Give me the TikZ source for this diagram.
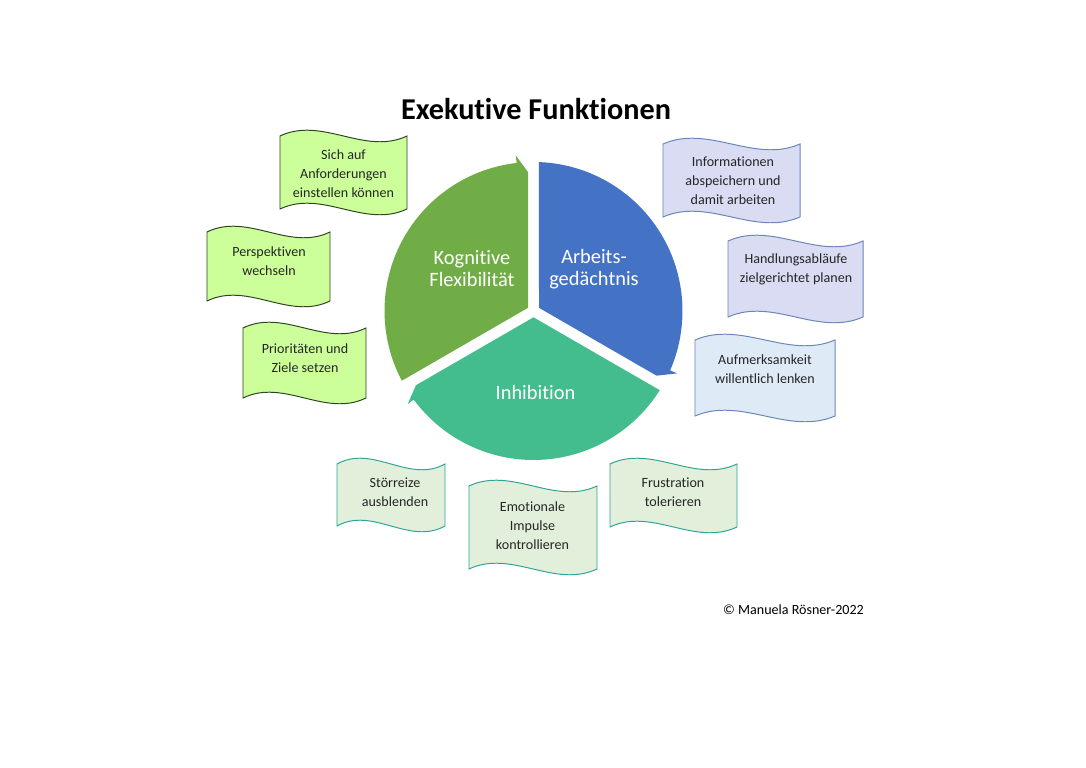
\documentclass[tikz,border=0pt]{standalone}
\usepackage{fontspec}
\setmainfont{Carlito}[Ligatures=NoCommon]
\usepackage{tikz}

\definecolor{kogcol}{HTML}{70AD47}
\definecolor{arbcol}{HTML}{4472C4}
\definecolor{inhcol}{RGB}{67,189,141}
\definecolor{kogbox}{HTML}{CCFF99}
\definecolor{kogline}{HTML}{2E4524}
\definecolor{arbbox}{HTML}{D9DCF2}
\definecolor{arbboxb}{HTML}{DEEBF7}
\definecolor{arbline}{HTML}{6A86BA}
\definecolor{inhbox}{HTML}{E2EFDA}
\definecolor{inhline}{HTML}{2EA597}

% wave shaped box: style, left, top, width, height
\newcommand{\wavebox}[5]{%
  \draw[#1] ({#2},{#3-6}) .. controls ({#2+#4/3},{#3+14}) and ({#2+2*#4/3},{#3-26}) .. ({#2+#4},{#3-6})
    -- ({#2+#4},{#3-#5+6}) .. controls ({#2+2*#4/3},{#3-#5-14}) and ({#2+#4/3},{#3-#5+26}) .. ({#2},{#3-#5+6}) -- cycle;}

\begin{document}
\begin{tikzpicture}[x=0.025cm, y=0.025cm,
    seglabel/.style={align=center, text=white, font=\fontsize{14.5}{15.6}\selectfont, inner sep=0pt},
    boxtext/.style={align=center, text=black!85, font=\fontsize{10}{13.5}\selectfont, inner sep=0pt},
    kogwave/.style={fill=kogbox, draw=kogline, line width=0.7pt},
    arbwave/.style={fill=arbbox, draw=arbline, line width=0.7pt},
    arbwaveb/.style={fill=arbboxb, draw=arbline, line width=0.7pt},
    inhwave/.style={fill=inhbox, draw=inhline, line width=0.7pt}]
    \fill[white] (0,0) rectangle (1086,768);
    \useasboundingbox (0,0) rectangle (1086,768);

    % Title
    \node[anchor=base, font=\fontsize{21.5}{25}\selectfont\bfseries] (title) at (536,648) {Exekutive Funktionen};

    % Cycle with three segments
    \coordinate (mid) at (533.5,457);
    \begin{scope}[shift={(mid)}]
        \fill[kogcol] (150:6.35) -- (92.27:139) -- (96.5:156.5) -- (96.5:149) arc[start angle=96.5, end angle=207.9, radius=149] -- cycle;
        \fill[arbcol] (30:6.35) -- (-27.73:139) -- (-23.5:156.5) -- (-23.5:149) arc[start angle=-23.5, end angle=87.9, radius=149] -- cycle;
        \fill[inhcol] (270:6.35) -- (212.27:139) -- (216.5:156.5) -- (216.5:149) arc[start angle=216.5, end angle=327.9, radius=149] -- cycle;
    \end{scope}
    \node[seglabel] (kog) at (472,499) {Kognitive\\Flexibilität};
    \node[seglabel] (arb) at (594,499) {Arbeits-\\gedächtnis};
    \node[seglabel] (inh) at (535.5,375) {Inhibition};

    % Kognitive Flexibilitaet
    \wavebox{kogwave}{280}{638}{127}{85}
    \node[boxtext] (anford) at (343.5,594.5) {Sich auf\\Anforderungen\\einstellen können};
    \wavebox{kogwave}{207}{542}{123}{81}
    \node[boxtext] (persp) at (269,507) {Perspektiven\\wechseln};
    \wavebox{kogwave}{243}{446}{123}{82}
    \node[boxtext] (prio) at (305,410) {Prioritäten und\\Ziele setzen};

    % Arbeitsgedaechtnis
    \wavebox{arbwave}{663}{630}{137}{85}
    \node[boxtext] (info) at (733,587) {Informationen\\abspeichern und\\damit arbeiten};
    \wavebox{arbwave}{728}{533}{135}{88}
    \node[boxtext] (handl) at (796,499) {Handlungsabläufe\\zielgerichtet planen};
    \wavebox{arbwaveb}{695}{434}{140}{88}
    \node[boxtext] (aufm) at (765,399) {Aufmerksamkeit\\willentlich lenken};

    % Inhibition
    \wavebox{inhwave}{337}{310}{108}{74}
    \node[boxtext] (stoer) at (395,275.5) {Störreize\\ausblenden};
    \wavebox{inhwave}{469}{288}{128}{95}
    \node[boxtext] (emot) at (532.5,242.5) {Emotionale\\Impulse\\kontrollieren};
    \wavebox{inhwave}{610}{310}{127}{75}
    \node[boxtext] (frust) at (673,276) {Frustration\\tolerieren};

    % Copyright
    \node[anchor=base, font=\fontsize{10}{12}\selectfont] (copy) at (793.5,153) {© Manuela Rösner-2022};
\end{tikzpicture}
\end{document}
